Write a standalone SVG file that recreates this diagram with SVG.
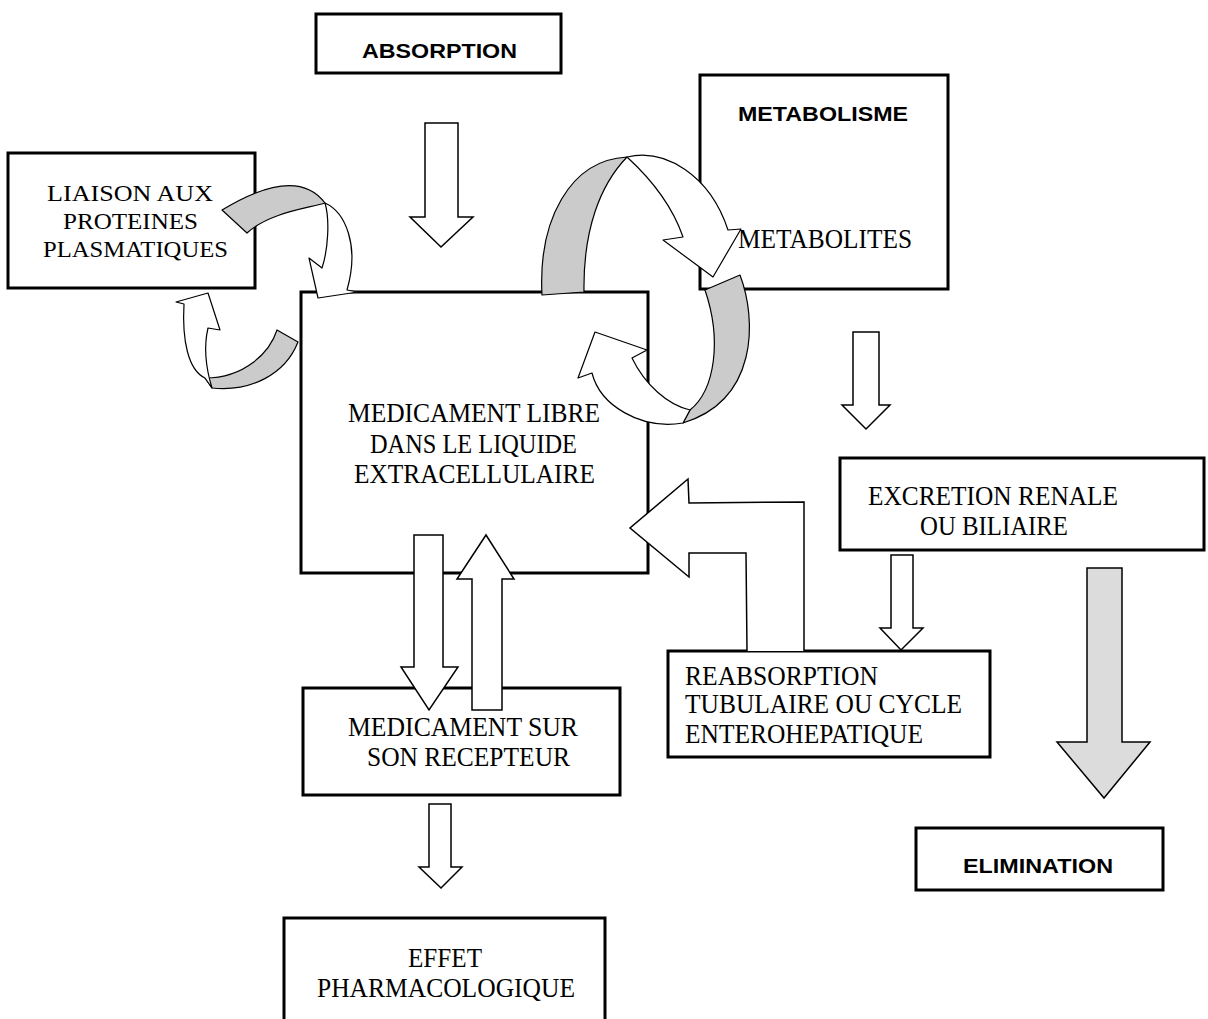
<svg xmlns="http://www.w3.org/2000/svg" width="1208" height="1019" viewBox="0 0 1208 1019">
<style>
.box{fill:#fff;stroke:#000;stroke-width:3}
.t{font-family:"Liberation Serif","Times New Roman",serif;font-size:27px;fill:#000}
.s{font-size:24px}
.b{font-family:"Liberation Sans",Arial,sans-serif;font-size:21px;font-weight:bold;fill:#000}
.arr{fill:#fff;stroke:#000;stroke-width:1.5;stroke-linejoin:miter}
.rib{fill:#fff;stroke:#000;stroke-width:1.2;stroke-linejoin:round}
.ribg{fill:#cbcbcb;stroke:#000;stroke-width:1.2;stroke-linejoin:round}
.garr{fill:#dcdcdc;stroke:#000;stroke-width:1.5}
</style>
<rect width="1208" height="1019" fill="#fff"/>
<g id="nodes">
<g id="absorption"><rect class="box" x="316" y="14" width="245" height="59"/><text class="b" x="362" y="58" textLength="155" lengthAdjust="spacingAndGlyphs">ABSORPTION</text></g>
<g id="metabolisme"><rect class="box" x="700" y="75" width="248" height="214"/><text class="b" x="738" y="121" textLength="170" lengthAdjust="spacingAndGlyphs">METABOLISME</text>
<text class="t" x="738" y="248" textLength="174" lengthAdjust="spacingAndGlyphs">METABOLITES</text></g>
<g id="liaison"><rect class="box" x="8" y="153" width="247" height="135"/>
<text class="t s" x="47" y="201" textLength="166" lengthAdjust="spacingAndGlyphs">LIAISON AUX</text>
<text class="t s" x="63" y="229" textLength="135" lengthAdjust="spacingAndGlyphs">PROTEINES</text>
<text class="t s" x="43" y="257" textLength="185" lengthAdjust="spacingAndGlyphs">PLASMATIQUES</text></g>
<g id="libre"><rect class="box" x="301" y="292" width="347" height="281"/>
<text class="t" x="348" y="422" textLength="252" lengthAdjust="spacingAndGlyphs">MEDICAMENT LIBRE</text>
<text class="t" x="370" y="453" textLength="207" lengthAdjust="spacingAndGlyphs">DANS LE LIQUIDE</text>
<text class="t" x="354" y="483" textLength="241" lengthAdjust="spacingAndGlyphs">EXTRACELLULAIRE</text></g>
<g id="excretion"><rect class="box" x="840" y="458" width="364" height="92"/>
<text class="t" x="868" y="505" textLength="250" lengthAdjust="spacingAndGlyphs">EXCRETION RENALE</text>
<text class="t" x="920" y="535" textLength="148" lengthAdjust="spacingAndGlyphs">OU BILIAIRE</text></g>
<g id="reabsorption"><rect class="box" x="668" y="651" width="322" height="106"/>
<text class="t" x="685" y="685" textLength="193" lengthAdjust="spacingAndGlyphs">REABSORPTION</text>
<text class="t" x="685" y="713" textLength="277" lengthAdjust="spacingAndGlyphs">TUBULAIRE OU CYCLE</text>
<text class="t" x="685" y="743" textLength="238" lengthAdjust="spacingAndGlyphs">ENTEROHEPATIQUE</text></g>
<g id="recepteur"><rect class="box" x="303" y="688" width="317" height="107"/>
<text class="t" x="348" y="736" textLength="230" lengthAdjust="spacingAndGlyphs">MEDICAMENT SUR</text>
<text class="t" x="367" y="766" textLength="203" lengthAdjust="spacingAndGlyphs">SON RECEPTEUR</text></g>
<g id="effet"><rect class="box" x="284" y="918" width="321" height="110"/>
<text class="t" x="408" y="967" textLength="74" lengthAdjust="spacingAndGlyphs">EFFET</text>
<text class="t" x="317" y="997" textLength="258" lengthAdjust="spacingAndGlyphs">PHARMACOLOGIQUE</text></g>
<g id="elimination"><rect class="box" x="916" y="828" width="247" height="62"/><text class="b" x="963" y="873" textLength="150" lengthAdjust="spacingAndGlyphs">ELIMINATION</text></g>
</g>
<g id="connectors">
<polygon class="arr" points="425,123 458,123 458,217 473,217 441,247 410,217 425,217"/>
<polygon class="arr" points="853,332 879,332 879,405 890,405 866,429 842,405 853,405"/>
<polygon class="arr" points="891,555 913,555 913,628 923,628 901,650 880,628 891,628"/>
<polygon class="garr" points="1087,568 1122,568 1122,742 1150,742 1104,798 1057,742 1087,742"/>
<polygon class="arr" points="414,535 443,535 443,667 458,667 429,710 401,667 414,667"/>
<polygon class="arr" points="472,710 502,710 502,579 514,579 486,535 457,579 472,579"/>
<polygon class="arr" points="429,804 451,804 451,867 462,867 441,888 419,867 429,867"/>
<polyline class="arr" points="804,651 804,502 689,503 688,479 630,528 689,577 689,553 746,553 747,651"/>
<path class="ribg" d="M222,210 C255,190 300,170 325,203 C310,208 270,212 247,233 Z"/>
<path class="rib" d="M325,203 C345,212 360,245 347,290 L358,292 L318,298 L309,258 L322,268 C328,250 330,220 325,203 Z"/>
<path class="ribg" d="M277,330 C270,352 245,378 205,378 L212,388 C250,392 285,375 298,342 Z"/>
<path class="rib" d="M205,378 C188,370 182,340 184,304 L176,302 L208,293 L220,330 L208,328 C204,345 205,365 212,388 Z"/>
<path class="ribg" d="M542,295 C538,220 570,160 627,157 C600,185 583,230 584,292 Z"/>
<path class="rib" d="M627,157 C665,148 710,175 728,230 L741,229 L713,277 L663,240 L683,237 C672,205 650,178 627,157 Z"/>
<path class="ribg" d="M705,290 L740,275 C757,320 758,400 683,423 L690,410 C715,390 722,340 705,290 Z"/>
<path class="rib" d="M683,423 C640,430 600,405 592,373 L578,378 L595,332 L647,350 L632,358 C645,385 668,405 690,410 Z"/>
</g>
</svg>
